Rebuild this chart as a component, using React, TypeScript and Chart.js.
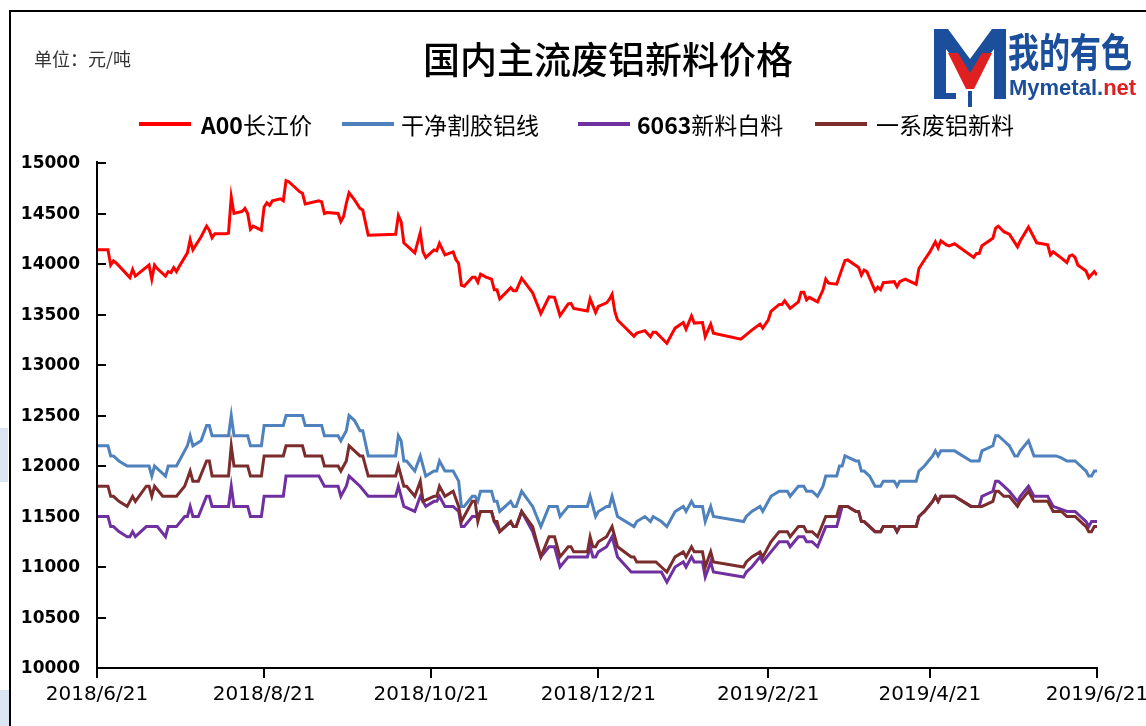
import React, { useEffect, useRef } from "react";
import { Chart, registerables } from "chart.js";

Chart.register(...registerables);

// x values are days counted from 2018/6/21
const tickDays = [0, 61, 122, 183, 245, 304, 365];
const tickLabels = ["2018/6/21", "2018/8/21", "2018/10/21", "2018/12/21", "2019/2/21", "2019/4/21", "2019/6/21"];
const yTickValues = [10000, 10500, 11000, 11500, 12000, 12500, 13000, 13500, 14000, 14500, 15000];

const seriesNames = ["A00长江价", "干净割胶铝线", "6063新料白料", "一系废铝新料"];

const a00Series: [number, number][] = [
  [0, 14140], [4, 14140], [5, 13990], [6, 14030], [7, 14010], [12, 13865], [13, 13945], [14, 13880], [16, 13925],
  [19, 13990], [20, 13850], [21, 13990], [22, 13955], [25, 13880], [26, 13925], [27, 13915], [28, 13965], [29, 13925],
  [30, 13975], [33, 14110], [34, 14240], [35, 14140], [38, 14270], [40, 14375], [41, 14335], [42, 14260], [43, 14300],
  [47, 14300], [48, 14305], [49, 14665], [50, 14500], [53, 14520], [54, 14550], [55, 14500], [56, 14345], [57, 14375],
  [60, 14335], [61, 14565], [62, 14605], [63, 14580], [64, 14625], [67, 14645], [68, 14625], [69, 14825], [70, 14815],
  [72, 14765], [74, 14715], [75, 14700], [76, 14595], [81, 14625], [82, 14615], [83, 14500], [84, 14510], [88, 14500],
  [89, 14420], [90, 14470], [91, 14600], [92, 14705], [94, 14635], [96, 14550], [97, 14535], [99, 14285], [109, 14295],
  [110, 14480], [111, 14420], [112, 14210], [116, 14110], [118, 14310], [119, 14120], [120, 14065], [123, 14140],
  [124, 14130], [125, 14205], [127, 14090], [130, 14120], [131, 14045], [132, 14005], [133, 13790], [134, 13780],
  [137, 13870], [138, 13870], [139, 13820], [140, 13900], [142, 13870], [144, 13850], [145, 13745], [146, 13745],
  [147, 13655], [151, 13765], [152, 13735], [153, 13735], [155, 13860], [159, 13715], [162, 13510], [165, 13675],
  [167, 13670], [169, 13490], [172, 13605], [173, 13610], [174, 13560], [179, 13535], [180, 13655], [182, 13520],
  [183, 13580], [186, 13615], [187, 13650], [188, 13700], [189, 13530], [190, 13445], [196, 13285], [197, 13315],
  [200, 13340], [202, 13280], [203, 13325], [204, 13325], [208, 13215], [211, 13365], [214, 13420], [215, 13355],
  [217, 13485], [218, 13415], [221, 13420], [222, 13280], [224, 13405], [225, 13315], [235, 13255], [239, 13345],
  [242, 13405], [243, 13365], [245, 13445], [246, 13530], [249, 13600], [250, 13600], [251, 13635], [253, 13560],
  [256, 13625], [257, 13720], [258, 13720], [259, 13645], [260, 13670], [263, 13625], [265, 13745], [266, 13850],
  [267, 13810], [270, 13800], [271, 13880], [273, 14035], [274, 14040], [278, 13965], [279, 13890], [280, 13940],
  [281, 13925], [284, 13735], [285, 13770], [286, 13745], [287, 13815], [291, 13825], [292, 13775], [293, 13825],
  [295, 13850], [299, 13800], [300, 13955], [302, 14040], [304, 14120], [306, 14220], [307, 14160], [308, 14230],
  [310, 14190], [311, 14180], [313, 14200], [320, 14065], [321, 14105], [322, 14105], [323, 14180], [327, 14255],
  [328, 14355], [329, 14375], [331, 14320], [333, 14295], [336, 14170], [337, 14230], [340, 14365], [343, 14210],
  [345, 14200], [347, 14190], [348, 14090], [349, 14120], [351, 14080], [354, 14015], [355, 14080], [356, 14090],
  [357, 14065], [358, 13990], [361, 13930], [362, 13865], [364, 13925], [365, 13890],
];

const wireSeries: [number, number][] = [
  [0, 12200], [4, 12200], [5, 12100], [6, 12100], [8, 12050], [11, 12000], [19, 12000], [20, 11900], [21, 12000],
  [25, 11900], [26, 12000], [29, 12000], [33, 12200], [34, 12300], [35, 12200], [38, 12250], [40, 12400], [41, 12400],
  [42, 12300], [48, 12300], [49, 12500], [50, 12300], [55, 12300], [56, 12200], [60, 12200], [61, 12400], [68, 12400],
  [69, 12500], [75, 12500], [76, 12400], [82, 12400], [83, 12300], [88, 12300], [89, 12250], [91, 12350], [92, 12500],
  [94, 12450], [96, 12350], [97, 12350], [99, 12100], [109, 12100], [110, 12300], [111, 12250], [112, 12050],
  [113, 12050], [116, 11950], [118, 12100], [120, 11900], [123, 11950], [124, 11950], [125, 12050], [127, 11950],
  [130, 11950], [132, 11850], [133, 11600], [134, 11600], [137, 11700], [138, 11700], [139, 11650], [140, 11750],
  [144, 11750], [145, 11650], [146, 11650], [147, 11550], [151, 11650], [152, 11600], [153, 11600], [155, 11750],
  [159, 11600], [162, 11400], [165, 11600], [168, 11600], [169, 11500], [172, 11600], [179, 11600], [180, 11700],
  [182, 11500], [183, 11550], [186, 11600], [187, 11600], [188, 11700], [190, 11500], [196, 11400], [197, 11450],
  [200, 11500], [202, 11450], [203, 11500], [206, 11450], [208, 11400], [211, 11550], [214, 11600], [215, 11550],
  [217, 11650], [218, 11600], [221, 11600], [222, 11450], [224, 11600], [225, 11500], [236, 11450], [237, 11500],
  [239, 11550], [242, 11600], [243, 11550], [246, 11700], [249, 11750], [252, 11750], [253, 11700], [256, 11800],
  [258, 11800], [259, 11750], [261, 11750], [263, 11700], [265, 11800], [266, 11900], [270, 11900], [271, 12000],
  [272, 12000], [273, 12100], [277, 12050], [278, 12050], [279, 11950], [280, 11950], [282, 11900], [284, 11800],
  [286, 11800], [287, 11850], [291, 11850], [292, 11800], [293, 11850], [299, 11850], [300, 11950], [302, 12000],
  [305, 12100], [306, 12150], [307, 12100], [308, 12150], [313, 12150], [319, 12050], [322, 12050], [323, 12150],
  [327, 12200], [328, 12300], [329, 12300], [331, 12250], [333, 12200], [335, 12100], [336, 12100], [337, 12150],
  [340, 12250], [342, 12100], [350, 12100], [352, 12080], [354, 12050], [357, 12050], [359, 12000], [361, 11950],
  [362, 11900], [363, 11900], [364, 11950], [365, 11950],
];

const s6063Series: [number, number][] = [
  [0, 11500], [4, 11500], [5, 11400], [6, 11400], [8, 11350], [11, 11300], [12, 11300], [13, 11350], [14, 11300],
  [18, 11400], [22, 11400], [25, 11300], [26, 11400], [29, 11400], [32, 11500], [33, 11500], [34, 11600], [35, 11500],
  [37, 11500], [40, 11700], [41, 11700], [42, 11600], [48, 11600], [49, 11800], [50, 11600], [55, 11600], [56, 11500],
  [60, 11500], [61, 11700], [68, 11700], [69, 11900], [81, 11900], [83, 11800], [88, 11800], [89, 11700], [91, 11800],
  [92, 11900], [94, 11850], [96, 11800], [99, 11700], [109, 11700], [110, 11800], [112, 11600], [116, 11550],
  [118, 11700], [120, 11600], [123, 11650], [124, 11650], [125, 11700], [127, 11600], [130, 11600], [132, 11550],
  [133, 11400], [134, 11400], [137, 11500], [139, 11500], [140, 11550], [144, 11550], [145, 11450], [147, 11350],
  [151, 11450], [152, 11400], [153, 11400], [155, 11550], [159, 11350], [162, 11100], [165, 11200], [167, 11200],
  [169, 11000], [172, 11100], [179, 11100], [180, 11200], [181, 11100], [182, 11100], [183, 11150], [186, 11200],
  [187, 11250], [188, 11300], [190, 11100], [195, 10950], [206, 10950], [208, 10850], [211, 11000], [214, 11050],
  [215, 11000], [217, 11100], [218, 11050], [221, 11050], [222, 10900], [224, 11050], [225, 10950], [236, 10900],
  [237, 10950], [239, 11000], [242, 11100], [243, 11050], [246, 11150], [249, 11250], [252, 11250], [253, 11200],
  [256, 11300], [258, 11300], [259, 11250], [261, 11250], [263, 11200], [266, 11400], [270, 11400], [271, 11500],
  [272, 11600], [274, 11600], [277, 11550], [278, 11550], [279, 11450], [280, 11450], [282, 11400], [284, 11350],
  [286, 11350], [287, 11400], [291, 11400], [292, 11350], [293, 11400], [299, 11400], [300, 11500], [302, 11550],
  [305, 11650], [306, 11700], [307, 11650], [308, 11700], [313, 11700], [319, 11600], [322, 11600], [323, 11700],
  [327, 11750], [328, 11850], [329, 11850], [331, 11800], [333, 11750], [336, 11650], [337, 11700], [340, 11800],
  [342, 11700], [347, 11700], [349, 11600], [354, 11550], [357, 11550], [359, 11500], [361, 11450], [362, 11400],
  [363, 11450], [365, 11450],
];

const scrapSeries: [number, number][] = [
  [0, 11800], [4, 11800], [5, 11700], [6, 11700], [8, 11650], [11, 11600], [13, 11700], [14, 11650], [18, 11800],
  [19, 11800], [20, 11700], [21, 11800], [24, 11700], [29, 11700], [32, 11800], [34, 11950], [35, 11850], [37, 11850],
  [40, 12050], [41, 12050], [42, 11900], [48, 11900], [49, 12200], [50, 12000], [55, 12000], [56, 11900], [60, 11900],
  [61, 12100], [68, 12100], [69, 12200], [75, 12200], [76, 12100], [82, 12100], [83, 12000], [88, 12000], [89, 11950],
  [91, 12050], [92, 12200], [94, 12150], [96, 12100], [97, 12100], [99, 11900], [109, 11900], [110, 12000],
  [112, 11800], [113, 11800], [116, 11700], [118, 11850], [119, 11650], [123, 11700], [124, 11700], [125, 11800],
  [127, 11700], [130, 11750], [132, 11600], [133, 11450], [134, 11500], [137, 11650], [138, 11650], [139, 11450],
  [140, 11550], [144, 11550], [145, 11450], [146, 11450], [147, 11350], [151, 11450], [152, 11400], [153, 11400],
  [155, 11550], [159, 11400], [162, 11100], [165, 11300], [167, 11300], [169, 11100], [172, 11200], [173, 11200],
  [174, 11150], [179, 11150], [180, 11300], [181, 11200], [182, 11200], [183, 11250], [186, 11300], [187, 11350],
  [188, 11400], [190, 11200], [195, 11100], [196, 11100], [197, 11050], [204, 11050], [206, 11000], [208, 10950],
  [211, 11100], [214, 11150], [215, 11100], [217, 11200], [218, 11150], [221, 11150], [222, 11000], [224, 11150],
  [225, 11050], [236, 11000], [237, 11050], [239, 11100], [242, 11150], [243, 11100], [246, 11250], [249, 11350],
  [252, 11350], [253, 11300], [256, 11400], [258, 11400], [259, 11350], [261, 11350], [263, 11300], [266, 11500],
  [270, 11500], [271, 11600], [274, 11600], [277, 11550], [278, 11550], [279, 11450], [280, 11450], [282, 11400],
  [284, 11350], [286, 11350], [287, 11400], [291, 11400], [292, 11350], [293, 11400], [299, 11400], [300, 11500],
  [302, 11550], [305, 11650], [306, 11700], [307, 11650], [308, 11700], [313, 11700], [319, 11600], [323, 11600],
  [327, 11650], [328, 11750], [329, 11750], [331, 11700], [333, 11700], [336, 11600], [337, 11650], [340, 11750],
  [342, 11650], [347, 11650], [349, 11550], [352, 11550], [354, 11500], [357, 11500], [359, 11450], [361, 11400],
  [362, 11350], [363, 11350], [364, 11400], [365, 11400],
];

const COLORS = ["#FF0000", "#4F81BD", "#7030A0", "#7B2C2C"];

const axisDecor = {
  id: "axisDecor",
  beforeDatasetsDraw(chart: any) {
    const { ctx, scales } = chart;
    const x = scales.x;
    const y = scales.y;
    const left = Math.round(x.getPixelForValue(0));
    ctx.save();
    ctx.strokeStyle = "#000";
    ctx.lineWidth = 2;
    ctx.beginPath();
    yTickValues.forEach((v) => {
      const py = Math.round(y.getPixelForValue(v));
      ctx.moveTo(left, py);
      ctx.lineTo(left + 9, py);
    });
    ctx.stroke();
    ctx.restore();
  },
  afterDraw(chart: any) {
    const { ctx, scales } = chart;
    const x = scales.x;
    const y = scales.y;
    ctx.save();
    ctx.strokeStyle = "#000";
    ctx.lineWidth = 2;
    ctx.beginPath();
    const left = Math.round(x.getPixelForValue(0));
    const bottom = Math.round(y.getPixelForValue(10000));
    const top = Math.round(y.getPixelForValue(15000)) - 2;
    ctx.moveTo(left, top);
    ctx.lineTo(left, bottom);
    ctx.moveTo(left - 1, bottom);
    ctx.lineTo(Math.round(x.getPixelForValue(365)) + 1, bottom);
    tickDays.forEach((d) => {
      const px = Math.round(x.getPixelForValue(d));
      ctx.moveTo(px, bottom);
      ctx.lineTo(px, bottom + 10);
    });
    ctx.stroke();

    ctx.fillStyle = "#000";
    ctx.font = "bold 17px 'DejaVu Sans'";
    ctx.textAlign = "right";
    ctx.textBaseline = "middle";
    yTickValues.forEach((v) => {
      ctx.fillText(String(v), left - 17, y.getPixelForValue(v) + 1);
    });
    ctx.font = "20px 'DejaVu Sans'";
    ctx.textAlign = "center";
    ctx.textBaseline = "middle";
    tickDays.forEach((d, i) => {
      ctx.fillText(tickLabels[i], x.getPixelForValue(d), bottom + 27);
    });
    ctx.restore();
  },
};

function ChartCanvas() {
  const ref = useRef<HTMLCanvasElement | null>(null);
  useEffect(() => {
    if (!ref.current) return;
    const all = [a00Series, wireSeries, s6063Series, scrapSeries];
    const chart = new Chart(ref.current, {
      type: "line",
      data: {
        datasets: all.map((s, i) => ({
          label: seriesNames[i],
          data: s.map(([d, v]) => ({ x: d, y: v })),
          borderColor: COLORS[i],
          backgroundColor: COLORS[i],
          borderWidth: 3,
          pointRadius: 0,
          tension: 0,
          fill: false,
          order: 3 - i,
        })),
      },
      options: {
        responsive: false,
        animation: false,
        devicePixelRatio: 1,
        layout: { padding: { left: 97, right: 49, top: 163, bottom: 58 } },
        plugins: {
          legend: { display: false },
          title: { display: false },
          tooltip: { enabled: false },
        },
        scales: {
          x: {
            type: "linear",
            min: 0,
            max: 365,
            ticks: { display: false },
            grid: { display: false, drawTicks: false },
            border: { display: false },
          },
          y: {
            type: "linear",
            min: 10000,
            max: 15000,
            ticks: { display: false },
            grid: { display: false, drawTicks: false },
            border: { display: false },
          },
        },
      },
      plugins: [axisDecor],
    });
    return () => chart.destroy();
  }, []);
  return (
    <canvas
      ref={ref}
      width={1146}
      height={726}
      style={{ position: "absolute", left: 0, top: 0, width: 1146, height: 726 }}
    />
  );
}

const legendItems = [
  { line: 139, text: 201, bold: "A00", rest: "长江价" },
  { line: 342, text: 401, bold: "", rest: "干净割胶铝线" },
  { line: 578, text: 637, bold: "6063", rest: "新料白料" },
  { line: 815, text: 876, bold: "", rest: "一系废铝新料" },
];

export default function App() {
  const cjk = "'Noto Sans CJK SC', 'Noto Sans', sans-serif";
  return (
    <div
      style={{
        position: "fixed",
        left: 0,
        top: 0,
        width: 1146,
        height: 726,
        background: "#fff",
        overflow: "hidden",
        fontFamily: cjk,
      }}
    >
      <div style={{ position: "absolute", left: 0, top: 428, width: 8, height: 54, background: "#dce6f3" }} />
      <div style={{ position: "absolute", left: 0, top: 690, width: 9, height: 36, background: "#dce6f3" }} />
      <div style={{ position: "absolute", left: 9, top: 10, width: 1137, height: 2, background: "#000" }} />
      <div style={{ position: "absolute", left: 9, top: 10, width: 2, height: 716, background: "#000" }} />
      <ChartCanvas />
      <div
        style={{
          position: "absolute",
          left: 34,
          top: 47,
          fontSize: 18,
          lineHeight: "22px",
          color: "#333",
          whiteSpace: "nowrap",
        }}
      >
        单位：元/吨
      </div>
      <div
        style={{
          position: "absolute",
          left: 408,
          width: 400,
          top: 37,
          textAlign: "center",
          fontSize: 37,
          lineHeight: "42px",
          fontWeight: 500,
          color: "#000",
          whiteSpace: "nowrap",
        }}
      >
        国内主流废铝新料价格
      </div>
      {legendItems.map((it, i) => (
        <React.Fragment key={i}>
          <div
            style={{
              position: "absolute",
              left: it.line,
              top: 122,
              width: 52,
              height: 4,
              background: COLORS[i],
            }}
          />
          <div
            style={{
              position: "absolute",
              left: it.text,
              top: 110,
              fontSize: 23,
              lineHeight: "28px",
              color: "#000",
              whiteSpace: "nowrap",
            }}
          >
            {it.bold ? <b>{it.bold}</b> : null}
            {it.rest}
          </div>
        </React.Fragment>
      ))}
      <svg
        style={{ position: "absolute", left: 934, top: 29 }}
        width={72}
        height={78}
        viewBox="0 0 72 78"
      >
        <polygon
          points="0,0 14,0 36,30 58,0 72,0 72,70 60,70 60,20 40,46 32,46 12,20 12,64 22,64 22,70 0,70"
          fill="#1B4F9C"
        />
        <polygon points="14,24 24,24 36,44 48,24 58,24 40,60 32,60" fill="#E02020" />
        <polygon points="34,62 38,62 38,78 34,78" fill="#1B4F9C" />
      </svg>
      <div
        style={{
          position: "absolute",
          left: 1008,
          top: 30,
          fontSize: 31,
          lineHeight: "31px",
          fontWeight: 700,
          color: "#1B4F9C",
          whiteSpace: "nowrap",
          transform: "scale(1, 1.28)",
          transformOrigin: "0 0",
        }}
      >
        我的有色
      </div>
      <div
        style={{
          position: "absolute",
          left: 1009,
          top: 76,
          fontSize: 22,
          lineHeight: "24px",
          fontWeight: 700,
          fontFamily: "'Liberation Sans', Arial, sans-serif",
          whiteSpace: "nowrap",
        }}
      >
        <span style={{ color: "#1B4F9C" }}>Mymetal.</span>
        <span style={{ color: "#E02020" }}>net</span>
      </div>
    </div>
  );
}
